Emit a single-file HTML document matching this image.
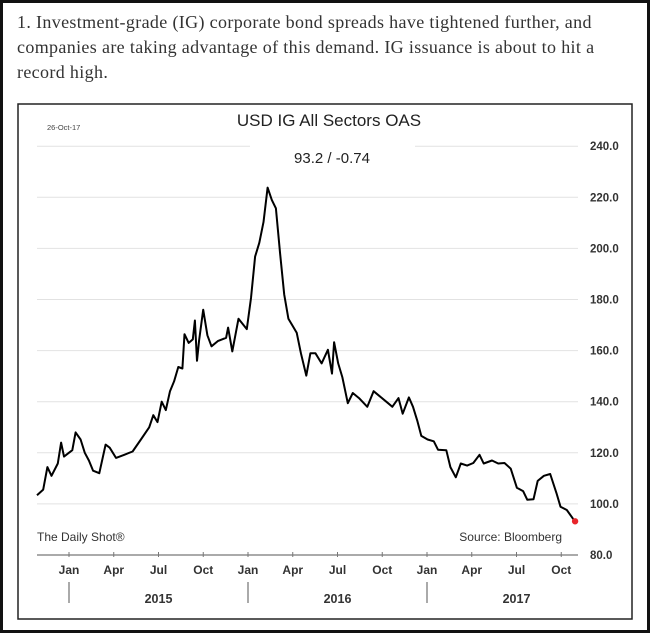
<!DOCTYPE html>
<html><head><meta charset="utf-8">
<style>
html,body{margin:0;padding:0;background:#fff;}
#wrap{position:relative;width:650px;height:633px;overflow:hidden;box-sizing:border-box;border:3px solid #111;background:#fff;}
#intro{position:absolute;left:14px;top:7px;width:630px;white-space:nowrap;font-family:"Liberation Serif",serif;font-size:18px;letter-spacing:0.35px;line-height:25px;color:#333;}
svg{position:absolute;left:0;top:0;}
</style></head>
<body>
<div id="wrap">
<div id="intro">1. Investment-grade (IG) corporate bond spreads have tightened further, and<br>companies are taking advantage of this demand. IG issuance is about to hit a<br>record high.</div>
<svg id="chart" width="644" height="627" viewBox="3 3 644 627"></svg>
</div>
<script>
// sample horizontal positions (reference zoom coords) and values in bps
const sampleX = [90,105,115,125,140,148,155,165,175,183,195,205,215,225,240,255,265,280,300,320,340,360,370,380,390,400,410,420,430,440,445,455,465,470,475,480,490,500,510,525,545,550,560,575,595,605,615,625,635,645,655,665,675,685,695,705,715,725,738,748,760,775,790,800,805,815,825,838,850,865,885,900,915,935,945,960,970,985,995,1005,1015,1030,1045,1055,1075,1085,1098,1110,1125,1140,1155,1165,1185,1200,1215,1230,1245,1260,1270,1285,1295,1310,1325,1340,1350,1365,1380,1385];
const seriesValues = [103.4,105.6,114.4,111,115.8,124,118.5,119.8,121,128,125.2,120,117,113,112,123.2,122,118,119.2,120.5,125.2,130,134.7,132,140,136.7,144.1,148,153.6,153,166.4,163,164.4,171.8,156,164,176,166,161.7,163.7,165,169,159.7,172.5,168.4,180.6,196.8,202.2,210.3,223.8,219,215.7,198,182,172.5,169.8,167,159,150.2,159,159,155,160.3,151,163.3,155,149.5,139.4,143.4,141.4,138,144.1,142.1,139.4,138,141.4,135.3,141.7,138,132.7,126.6,125.2,124.5,121.2,121,114.4,110.4,115.8,115,116,119.2,115.8,117,115.8,116,113.8,106.3,105,101.6,101.8,109,111,111.7,104.3,98.9,97.6,94.2,93.2];
const yTicks = [80,100,120,140,160,180,200,220,240];
const monthLabels = ["Jan","Apr","Jul","Oct","Jan","Apr","Jul","Oct","Jan","Apr","Jul","Oct"];
const yearLabels = ["2015","2016","2017"];

const NS="http://www.w3.org/2000/svg";
const svg=document.getElementById('chart');
const X0=69, PPM=179/12;
function xm(m){return X0+m*PPM;}
function y(v){return 555-(v-80)*2.555;}
function monthsFromZoom(zx){return (zx-167)/35.9;}
function mk(tag,attrs,name,text){const e=document.createElementNS(NS,tag);for(const k in attrs)e.setAttribute(k,attrs[k]);


if(text!==undefined)e.textContent=text;svg.appendChild(e);return e;}

mk('rect',{x:18,y:104,width:614,height:515,fill:'#fff',stroke:'#222','stroke-width':1.5},'chart-frame');
yTicks.forEach(v=>{
  if(v===80) return;
  if(v===240){
    mk('line',{x1:37,x2:250,y1:y(v),y2:y(v),stroke:'#e2e2e2','stroke-width':1},'gridline-240-left');
    mk('line',{x1:415,x2:578,y1:y(v),y2:y(v),stroke:'#e2e2e2','stroke-width':1},'gridline-240-right');
  } else mk('line',{x1:37,x2:578,y1:y(v),y2:y(v),stroke:'#e2e2e2','stroke-width':1},'gridline-'+v);
});
yTicks.forEach(v=>{
  mk('text',{x:590,y:y(v)+4,'font-family':'Liberation Sans, sans-serif','font-size':11.5,'font-weight':'bold',fill:'#333'},'y-tick-label',v.toFixed(1));
});
mk('line',{x1:37,x2:578,y1:y(80),y2:y(80),stroke:'#777','stroke-width':1.2},'x-axis-line');
monthLabels.forEach((l,i)=>{
  const x=xm(i*3);
  mk('line',{x1:x,x2:x,y1:y(80)-3,y2:y(80)+2,stroke:'#777','stroke-width':1},'x-tick');
  mk('text',{x:x,y:574,'text-anchor':'middle','font-family':'Liberation Sans, sans-serif','font-size':12,'font-weight':'bold',fill:'#333'},'month-label',l);
});
yearLabels.forEach((l,i)=>{
  const x=xm(i*12);
  mk('line',{x1:x,x2:x,y1:582,y2:603,stroke:'#555','stroke-width':1},'year-separator');
  mk('text',{x:xm(i*12+6),y:603,'text-anchor':'middle','font-family':'Liberation Sans, sans-serif','font-size':12.5,'font-weight':'bold',fill:'#333'},'year-label',l);
});
mk('text',{x:329,y:126,'text-anchor':'middle','font-family':'Liberation Sans, sans-serif','font-size':17,fill:'#222'},'chart-title','USD IG All Sectors OAS');
mk('text',{x:47,y:130,'font-family':'Liberation Sans, sans-serif','font-size':7.5,fill:'#444'},'date-label','26-Oct-17');
mk('text',{x:332,y:163,'text-anchor':'middle','font-family':'Liberation Sans, sans-serif','font-size':15,fill:'#222'},'last-value','93.2  /  -0.74');
mk('text',{x:37,y:541,'font-family':'Liberation Sans, sans-serif','font-size':12,fill:'#333'},'brand-label','The Daily Shot®');
mk('text',{x:562,y:541,'text-anchor':'end','font-family':'Liberation Sans, sans-serif','font-size':12,fill:'#333'},'source-label','Source: Bloomberg');
let d='';
sampleX.forEach((zx,i)=>{d+=(i?'L':'M')+xm(monthsFromZoom(zx)).toFixed(1)+','+y(seriesValues[i]).toFixed(1);});
mk('path',{d:d,fill:'none',stroke:'#000','stroke-width':2,'stroke-linejoin':'round'},'oas-line');
const li=sampleX.length-1;
mk('circle',{cx:xm(monthsFromZoom(sampleX[li])),cy:y(seriesValues[li]),r:3.2,fill:'#e8252b'},'last-point-marker');
</script>
</body></html>
